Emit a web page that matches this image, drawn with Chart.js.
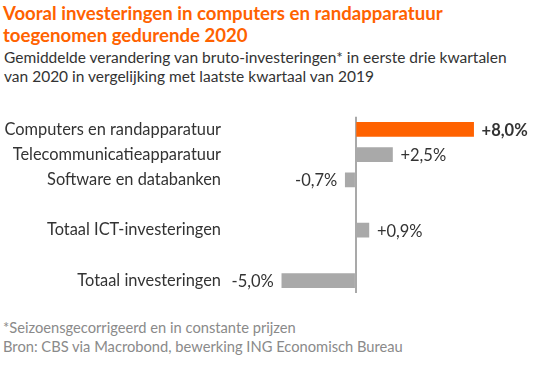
<!DOCTYPE html>
<html>
<head>
<meta charset="utf-8">
<script src="https://cdn.jsdelivr.net/npm/chart.js@4"></script>
<style>
  html, body { margin: 0; padding: 0; background: #fff; }
  body { width: 550px; height: 370px; position: relative; overflow: hidden; font-family: "Lato", "Open Sans", sans-serif; }
  #title { position: absolute; left: 3px; top: 2px; color: #FF6200; font-weight: bold; font-size: 18.6px; line-height: 22px; }
  #subtitle { position: absolute; left: 4px; top: 48px; color: #333; font-size: 15.5px; line-height: 19px; }
  #notes { position: absolute; left: 3px; top: 318px; color: #8a8a8a; font-size: 14.7px; line-height: 19px; }
  #wrap { position: absolute; left: 0; top: 100px; width: 550px; height: 210px; }
</style>
</head>
<body>
<div id="title">Vooral investeringen in computers en randapparatuur<br>toegenomen gedurende 2020</div>
<div id="subtitle">Gemiddelde verandering van bruto-investeringen* in eerste drie kwartalen<br>van 2020 in vergelijking met laatste kwartaal van 2019</div>
<div id="notes">*Seizoensgecorrigeerd en in constante prijzen<br>Bron: CBS via Macrobond, bewerking ING Economisch Bureau</div>
<div id="wrap"><canvas id="c" width="550" height="210"></canvas></div>
<script>
const categories = ["Computers en randapparatuur", "Telecommunicatieapparatuur", "Software en databanken", "", "Totaal ICT-investeringen", "", "Totaal investeringen"];
const values = [8.0, 2.5, -0.7, null, 0.9, null, -5.0];
const valueLabels = ["+8,0%", "+2,5%", "-0,7%", "", "+0,9%", "", "-5,0%"];
const barColors = ["#FF6200", "#A9A9A9", "#A9A9A9", "#A9A9A9", "#A9A9A9", "#A9A9A9", "#A9A9A9"];
const boldLabel = [true, false, false, false, false, false, false];

const FONT = "Lato";

const valueLabelPlugin = {
  id: 'valueLabels',
  afterDatasetsDraw(chart) {
    const ctx = chart.ctx;
    const meta = chart.getDatasetMeta(0);
    meta.data.forEach((bar, i) => {
      const v = values[i];
      if (v === null || v === undefined) return;
      ctx.save();
      ctx.font = (boldLabel[i] ? 'bold ' : '') + '16.5px ' + FONT;
      ctx.fillStyle = '#333';
      ctx.textBaseline = 'middle';
      if (v >= 0) { ctx.textAlign = 'left'; ctx.fillText(valueLabels[i], bar.x + 8, bar.y + 1); }
      else { ctx.textAlign = 'right'; ctx.fillText(valueLabels[i], bar.x - 8, bar.y + 1); }
      ctx.restore();
    });
  }
};

new Chart(document.getElementById('c'), {
  type: 'bar',
  data: {
    labels: categories,
    datasets: [{ data: values, backgroundColor: barColors, barThickness: 14, borderWidth: 0 }]
  },
  options: {
    indexAxis: 'y',
    responsive: false,
    animation: false,
    events: [],
    layout: { padding: { top: 12, bottom: 8, right: 10, left: 0 } },
    plugins: { legend: { display: false }, tooltip: { enabled: false } },
    scales: {
      x: {
        min: -8.65, max: 12.5,
        ticks: { display: false, stepSize: 1 },
        border: { display: false },
        grid: {
          drawTicks: false,
          lineWidth: 2,
          color: (c) => (c.tick && Math.abs(c.tick.value) < 1e-9) ? '#A9A9A9' : 'rgba(0,0,0,0)'
        }
      },
      y: {
        afterFit: (s) => { s.width = 228; },
        border: { display: false },
        grid: { display: false, drawTicks: false },
        ticks: { color: '#333', font: { family: FONT, size: 16.4 }, padding: 7 }
      }
    }
  },
  plugins: [valueLabelPlugin]
});
</script>
</body>
</html>
